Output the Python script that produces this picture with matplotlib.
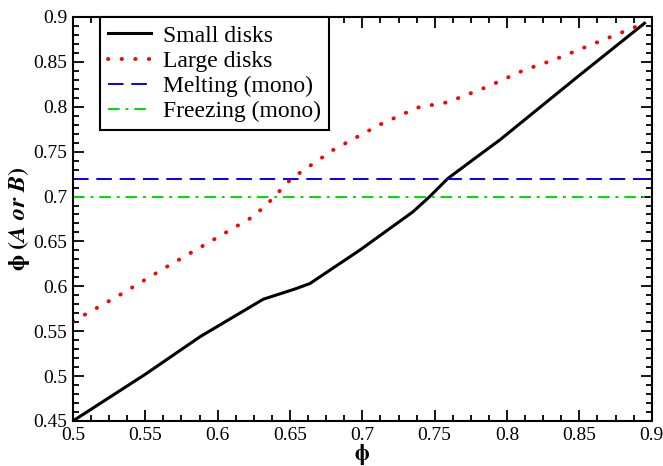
import numpy as np
import matplotlib
matplotlib.use("Agg")
import matplotlib.pyplot as plt
from matplotlib.ticker import MultipleLocator

# Small disks (solid black)
phi_small = [0.50, 0.55, 0.588, 0.6315, 0.6534, 0.6637, 0.698, 0.735, 0.7466,
             0.759, 0.779, 0.795, 0.85, 0.895]
phiA_small = [0.45, 0.502, 0.544, 0.5856, 0.597, 0.603, 0.640, 0.683, 0.700,
              0.720, 0.744, 0.763, 0.835, 0.893]

# Large disks (red dotted)
phi_large = [0.50, 0.532, 0.563, 0.594, 0.625, 0.6357, 0.651, 0.680, 0.712,
             0.738, 0.759, 0.786, 0.812, 0.832, 0.895]
phiB_large = [0.561, 0.590, 0.620, 0.649, 0.678, 0.694, 0.720, 0.752, 0.780,
              0.799, 0.805, 0.822, 0.841, 0.852, 0.893]

melting = 0.72
freezing = 0.70

plt.rcParams["font.family"] = ["Liberation Serif", "DejaVu Serif"]
plt.rcParams["mathtext.fontset"] = "stix"

fig = plt.figure(figsize=(6.63, 4.66), dpi=100)
ax = fig.add_axes([0.110, 0.0966, 0.873, 0.867])

ax.plot(phi_small, phiA_small, color="black", lw=2.2, label="Small disks",
        solid_joinstyle="round")
ax.plot(phi_large, phiB_large, color="red", lw=2.8, linestyle=(0, (0.1, 3.4)),
        dash_capstyle="round", label="Large disks")
ax.axhline(melting, color="blue", lw=1.4, linestyle=(0, (8, 4)), label="Melting (mono)")
ax.axhline(freezing, color="#00dd00", lw=1.4, linestyle=(0, (6, 3, 1.5, 3)),
           label="Freezing (mono)")

ax.set_xlim(0.5, 0.9)
ax.set_ylim(0.45, 0.9)
ax.xaxis.set_major_locator(MultipleLocator(0.05))
ax.xaxis.set_minor_locator(MultipleLocator(0.0125))
ax.yaxis.set_major_locator(MultipleLocator(0.05))
ax.yaxis.set_minor_locator(MultipleLocator(0.01))
ax.tick_params(which="both", direction="in", top=True, right=True, width=1.3,
               labelsize=14)
ax.tick_params(axis="x", pad=4)
ax.tick_params(axis="y", pad=4)
ax.tick_params(which="major", length=8)
ax.tick_params(which="minor", length=4)
ax.xaxis.set_major_formatter(plt.FuncFormatter(lambda v, p: f"{v:g}"))
ax.yaxis.set_major_formatter(plt.FuncFormatter(lambda v, p: f"{v:g}"))
for s in ax.spines.values():
    s.set_linewidth(1.5)

ax.set_xlabel(r"$\mathbf{\phi}$", fontsize=16, labelpad=-1)
ax.set_ylabel(r"$\mathbf{\phi}$ $\mathbf{(}\boldsymbol{A\ or\ B}\mathbf{)}$", fontsize=17.5,
              labelpad=1)

leg = ax.legend(loc="upper left", bbox_to_anchor=(0.047, 1.0), fontsize=17,
                frameon=True, fancybox=False, edgecolor="black", handlelength=1.8,
                borderpad=0.35, labelspacing=0.15, handletextpad=0.5,
                borderaxespad=0.0, framealpha=1)
leg.get_frame().set_linewidth(1.5)

fig.savefig("out.png", dpi=100)
